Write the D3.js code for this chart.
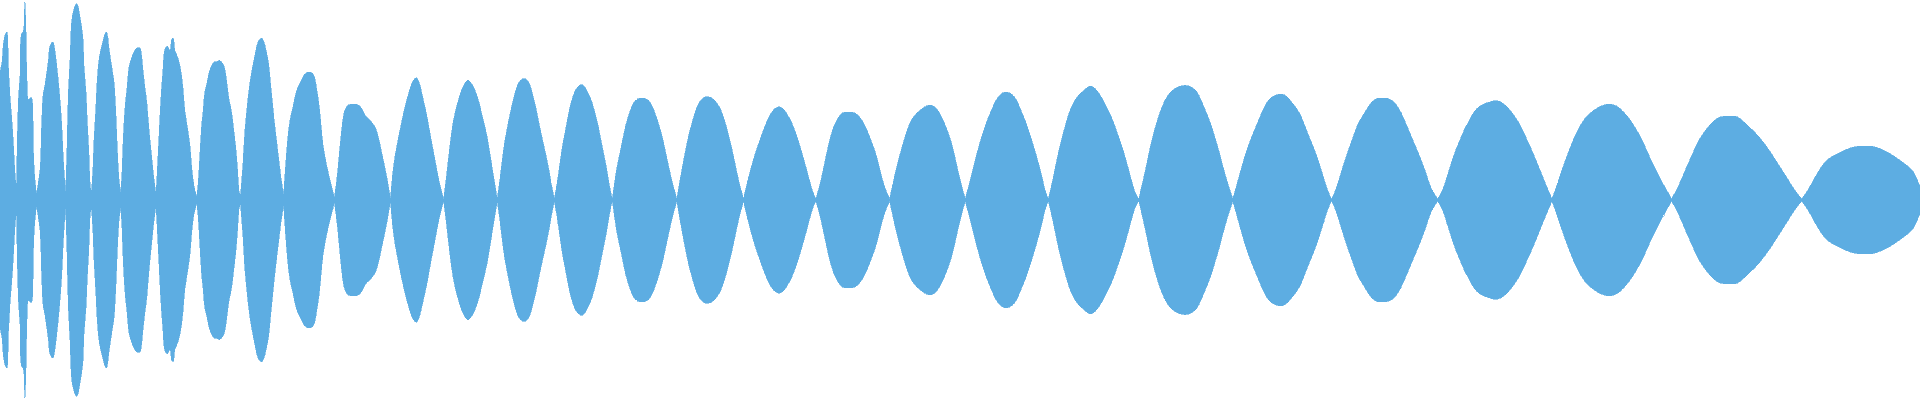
<!DOCTYPE html>
<html>
<head>
<meta charset="utf-8">
<title>Waveform</title>
<script src="https://cdn.jsdelivr.net/npm/d3@7"></script>
<style>
  html, body { margin: 0; padding: 0; background: #fff; overflow: hidden; }
  #chart svg { display: block; }
</style>
</head>
<body>
<div id="chart"></div>
<script>
// Zero crossings of the envelope (ms) and the small amplitude left at each one
const crossMs = [41, 91, 164, 228, 301, 390, 492, 601, 709, 836, 976, 1109, 1243, 1386, 1531, 1692,
    1859, 2040, 2224, 2413, 2621, 2847, 3082, 3329, 3594, 3880, 4179, 4504];
const crossAmp = [0.04, 0.03, 0.04, 0.03, 0.035, 0.025, 0.015, 0.02, 0.025, 0.012, 0.006, 0.006, 0.006, 0.006,
    0.006, 0.006, 0.006, 0.006, 0.006, 0.006, 0.006, 0.006, 0.006, 0.006, 0.006, 0.006, 0.006, 0.006];

// Envelope samples: time (ms) and peak amplitude (0..1)
const envMs = [
    0, 5, 8, 12, 17, 21, 25, 29, 33, 37,
    46, 50, 54, 58, 62, 65, 67, 71, 75, 79, 82, 83, 86,
    100, 104, 108, 112, 117, 121, 125, 132, 137, 142, 148, 154, 158, 162,
    167, 171, 175, 179, 183, 190, 193, 198, 202, 207, 210, 215, 218, 222, 225,
    232, 235, 239, 243, 248, 252, 258, 265, 268, 273, 279, 285, 290, 293, 297,
    304, 308, 312, 317, 323, 329, 335, 342, 350, 354, 358, 362, 367, 371, 375, 379, 383,
    393, 398, 402, 407, 412, 418, 425, 429, 433, 437, 443, 450, 457, 462, 468, 475, 479, 485,
    496, 500, 504, 508, 512, 518, 523, 529, 535, 542, 548, 554, 560, 565, 568, 573, 579, 585, 590, 594, 598,
    607, 612, 618, 625, 632, 637, 642, 648, 654, 660, 665, 671, 677, 683, 690, 696, 702,
    715, 721, 727, 733, 738, 746, 754, 762, 775, 783, 788, 792, 796, 800, 808, 817, 825,
    842, 846, 850, 854, 858, 862, 867, 873, 892, 900, 907, 912, 925, 933, 942, 950, 958, 967,
    983, 992, 1000, 1008, 1017, 1025, 1033, 1042, 1050, 1058, 1067, 1075, 1083, 1092, 1100,
    1117, 1125, 1133, 1142, 1150, 1158, 1167, 1173, 1183, 1192, 1200, 1208, 1217, 1225, 1233,
    1250, 1258, 1267, 1275, 1283, 1292, 1300, 1310, 1321, 1329, 1338, 1346, 1354, 1362, 1371, 1379,
    1396, 1404, 1412, 1421, 1429, 1438, 1446, 1454, 1462, 1471, 1479, 1488, 1496, 1500, 1516, 1526,
    1542, 1553, 1563, 1574, 1584, 1593, 1616, 1626, 1637, 1647, 1658, 1668, 1679,
    1700, 1711, 1721, 1732, 1742, 1755, 1768, 1782, 1795, 1805, 1816, 1826, 1837, 1847,
    1868, 1879, 1889, 1900, 1910, 1921, 1932, 1945, 1958, 1968, 1979, 1989, 2000, 2010, 2021, 2031,
    2053, 2063, 2074, 2084, 2095, 2105, 2121, 2137, 2153, 2168, 2179, 2189, 2200, 2210,
    2231, 2242, 2253, 2263, 2273, 2284, 2300, 2321, 2337, 2352, 2368, 2379, 2389, 2400,
    2426, 2437, 2447, 2458, 2468, 2479, 2489, 2505, 2519, 2531, 2542, 2552, 2563, 2573, 2584, 2594, 2605, 2613,
    2631, 2642, 2652, 2663, 2673, 2684, 2694, 2705, 2721, 2731, 2742, 2752, 2763, 2773, 2784, 2794, 2805, 2815, 2826, 2836,
    2857, 2868, 2878, 2889, 2900, 2910, 2921, 2936, 2963, 2984, 2994, 3005, 3015, 3026, 3036, 3047, 3057, 3068,
    3094, 3105, 3115, 3126, 3136, 3147, 3161, 3171, 3182, 3197, 3213, 3229, 3245, 3255, 3266, 3276, 3287, 3297, 3308, 3318,
    3340, 3350, 3361, 3371, 3382, 3392, 3403, 3413, 3424, 3439, 3455, 3471, 3487, 3503, 3513, 3524, 3534, 3545, 3555, 3566, 3576,
    3608, 3618, 3629, 3639, 3650, 3660, 3671, 3681, 3692, 3708, 3724, 3739, 3755, 3771, 3787, 3802, 3818, 3834, 3850, 3866,
    3892, 3908, 3923, 3939, 3955, 3971, 3992, 4013, 4029, 4044, 4060, 4076, 4092, 4108, 4123, 4139, 4155,
    4197, 4213, 4229, 4244, 4260, 4276, 4292, 4308, 4329, 4344, 4360, 4376, 4392, 4408, 4423, 4439, 4455, 4471, 4486,
    4518, 4539, 4560, 4581, 4602, 4623, 4644, 4665, 4686, 4707, 4728, 4749, 4770, 4786, 4797, 4800
];
const envAmp = [
    .64, .69, .77, .82, .84, .67, .52, .42, .30, .15,
    .50, .62, .83, .84, .99, .84, .64, .50, .51, .51, .44, .29, .14,
    .15, .37, .53, .57, .64, .70, .77, .79, .75, .67, .55, .39, .22, .09,
    .22, .54, .70, .89, .94, .98, .98, .94, .89, .82, .67, .54, .40, .25, .09,
    .14, .30, .44, .60, .71, .75, .80, .84, .83, .75, .67, .59, .42, .27, .12,
    .10, .30, .45, .55, .67, .71, .74, .76, .76, .72, .64, .57, .49, .39, .30, .22, .14,
    .14, .34, .50, .64, .75, .77, .75, .80, .81, .75, .72, .67, .57, .45, .37, .27, .17, .07,
    .10, .24, .37, .45, .54, .59, .64, .67, .69, .69, .70, .69, .67, .62, .57, .50, .44, .34, .25, .15, .04,
    .17, .34, .47, .59, .67, .72, .77, .80, .81, .79, .75, .69, .57, .45, .32, .22, .12,
    .20, .34, .42, .47, .52, .57, .60, .63, .64, .63, .60, .55, .50, .43, .27, .17, .10,
    .10, .18, .27, .35, .42, .45, .47, .48, .48, .47, .45, .42, .40, .38, .35, .28, .20, .12,
    .17, .27, .35, .43, .50, .56, .60, .62, .58, .50, .43, .33, .25, .15, .07,
    .13, .28, .40, .47, .53, .57, .60, .60, .57, .53, .47, .40, .33, .23, .13,
    .10, .25, .35, .43, .50, .57, .60, .61, .60, .55, .48, .40, .32, .25, .17, .07,
    .12, .25, .33, .43, .50, .55, .57, .58, .57, .53, .50, .43, .37, .32, .17, .04,
    .17, .26, .37, .44, .49, .51, .51, .49, .44, .38, .30, .20, .10,
    .10, .22, .32, .40, .47, .51, .52, .51, .48, .44, .37, .29, .19, .09,
    .09, .17, .24, .30, .36, .41, .45, .47, .46, .43, .39, .34, .27, .20, .12, .04,
    .10, .20, .30, .37, .41, .44, .44, .44, .41, .35, .29, .24, .15, .07,
    .07, .17, .25, .32, .38, .42, .45, .48, .47, .43, .35, .29, .20, .10,
    .10, .19, .27, .34, .40, .45, .50, .54, .54, .53, .50, .45, .40, .34, .27, .20, .12, .04,
    .09, .20, .29, .37, .44, .49, .52, .54, .57, .57, .55, .52, .48, .44, .39, .33, .27, .20, .12, .04,
    .09, .19, .29, .37, .44, .49, .53, .56, .58, .56, .54, .49, .44, .39, .32, .25, .17, .09,
    .09, .17, .24, .30, .35, .40, .47, .50, .52, .53, .53, .49, .45, .41, .35, .30, .25, .19, .12, .05,
    .05, .12, .19, .25, .31, .37, .41, .44, .48, .51, .51, .51, .49, .44, .39, .34, .29, .24, .19, .13, .06,
    .05, .12, .19, .25, .30, .35, .39, .43, .46, .48, .49, .50, .49, .46, .42, .37, .30, .23, .15, .07,
    .07, .17, .25, .33, .39, .43, .46, .48, .48, .47, .44, .40, .35, .29, .22, .15, .09,
    .07, .15, .22, .29, .34, .38, .41, .42, .42, .42, .39, .36, .33, .29, .25, .20, .15, .10, .05,
    .04, .12, .19, .22, .24, .26, .27, .27, .27, .25, .23, .20, .17, .14, .08, .07
];

const duration = 4800;
// the first lobes are noisy and keep their spikes, later ones are smooth arches
const noisyLobes = 10;

function drawWaveform(container) {
    const width = 1920;
    const height = 400;

    const svg = d3.select(container).append('svg')
        .attr('width', width)
        .attr('height', height);

    const x = d3.scaleLinear().domain([0, duration]).range([0, width]);
    const y = d3.scaleLinear().domain([-1, 1]).range([height, 0]);

    // One list of points per lobe, split at the zero crossings
    const samples = envMs.map((t, i) => ({ t: t, a: envAmp[i] }));
    const bounds = [0].concat(crossMs, [duration]);
    const lobes = [];
    for (let i = 0; i < bounds.length - 1; i++) {
        const start = bounds[i];
        const end = bounds[i + 1];
        const pts = samples.filter(d => d.t >= start && d.t <= end);
        if (i > 0) pts.unshift({ t: start, a: crossAmp[i - 1] });
        if (i < bounds.length - 2) pts.push({ t: end, a: crossAmp[i] });
        lobes.push(pts);
    }

    // Mirrored envelope around the zero line
    const spiky = d3.area()
        .x(d => x(d.t))
        .y0(d => y(-d.a))
        .y1(d => y(d.a))
        .curve(d3.curveCatmullRom.alpha(0.5));
    const smooth = d3.area()
        .x(d => x(d.t))
        .y0(d => y(-d.a))
        .y1(d => y(d.a))
        .curve(d3.curveBasis);

    svg.append('g')
        .selectAll('path')
        .data(lobes)
        .enter().append('path')
        .attr('d', (d, i) => (i < noisyLobes ? spiky : smooth)(d))
        .attr('fill', '#5dade2')
        .attr('stroke', '#5dade2')
        .attr('stroke-width', 0.6)
        .attr('shape-rendering', 'crispEdges');
}

drawWaveform('#chart');
</script>
</body>
</html>
